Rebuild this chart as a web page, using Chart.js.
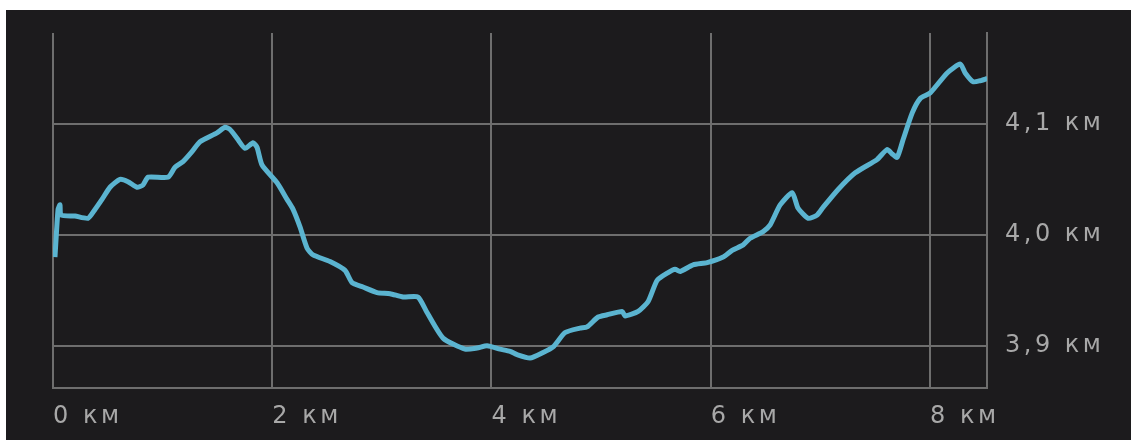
<!DOCTYPE html>
<html>
<head>
<meta charset="utf-8">
<script src="https://cdn.jsdelivr.net/npm/chart.js@4.4.1/dist/chart.umd.min.js"></script>
<style>
  html, body { margin: 0; padding: 0; background: #fff; }
  .panel { position: absolute; left: 6px; top: 10px; width: 1125px; height: 430px; background: #1c1b1d; }
</style>
</head>
<body>
<div class="panel"><canvas id="elevation" width="1125" height="430"></canvas></div>
<script>
// distance along the track, km
const distKm = [
  0.018, 0.046, 0.064, 0.073, 0.201, 0.319, 0.383, 0.447, 0.520, 0.611,
  0.684, 0.766, 0.821, 0.867, 1.049, 1.113, 1.186, 1.268, 1.341, 1.496,
  1.569, 1.615, 1.679, 1.752, 1.825, 1.861, 1.907, 2.044, 2.135, 2.190,
  2.254, 2.318, 2.372, 2.527, 2.664, 2.728, 2.828, 2.956, 3.075, 3.193,
  3.330, 3.412, 3.558, 3.759, 3.869, 3.960, 4.078, 4.170, 4.234, 4.352,
  4.471, 4.562, 4.672, 4.808, 4.872, 4.973, 5.055, 5.192, 5.219, 5.338,
  5.429, 5.511, 5.611, 5.675, 5.721, 5.839, 5.967, 6.113, 6.195, 6.296,
  6.359, 6.478, 6.542, 6.633, 6.743, 6.797, 6.889, 6.971, 7.026, 7.162,
  7.318, 7.518, 7.609, 7.655, 7.701, 7.755, 7.838, 7.911, 8.002, 8.157,
  8.276, 8.321, 8.394, 8.458, 8.522
];
// elevation, km
const elevKm = [
  3.980, 4.023, 4.027, 4.018, 4.017, 4.015, 4.023, 4.032, 4.043, 4.050,
  4.048, 4.043, 4.045, 4.052, 4.052, 4.061, 4.066, 4.075, 4.084, 4.092,
  4.097, 4.095, 4.087, 4.078, 4.083, 4.079, 4.063, 4.047, 4.032, 4.023,
  4.007, 3.988, 3.982, 3.976, 3.968, 3.957, 3.953, 3.948, 3.947, 3.944,
  3.944, 3.930, 3.907, 3.897, 3.898, 3.900, 3.897, 3.895, 3.892, 3.889,
  3.894, 3.899, 3.912, 3.916, 3.917, 3.926, 3.928, 3.931, 3.927, 3.931,
  3.940, 3.959, 3.966, 3.969, 3.967, 3.973, 3.975, 3.980, 3.986, 3.991,
  3.997, 4.003, 4.009, 4.027, 4.038, 4.024, 4.015, 4.018, 4.025, 4.041,
  4.056, 4.068, 4.077, 4.073, 4.070, 4.086, 4.110, 4.123, 4.128, 4.146,
  4.154, 4.146, 4.138, 4.139, 4.141
];
const xTicks = [0, 2, 4, 6, 8];
const yTicks = [3.9, 4.0, 4.1];

const GRID = "#6e6e6e";
const LABEL = "#a8a8a8";
const LINE = "#5bb4d0";

// the labels in the screenshot are set wide
const wideText = {
  id: "wideText",
  beforeDraw(chart) {
    chart.ctx.letterSpacing = "3.5px";
  },
};

const points = distKm.map((d, i) => ({ x: d, y: elevKm[i] }));

new Chart(document.getElementById("elevation").getContext("2d"), {
  type: "line",
  data: {
    datasets: [
      {
        data: points,
        borderColor: LINE,
        borderWidth: 5,
        pointRadius: 0,
        tension: 0.2,
        fill: false,
      },
    ],
  },
  options: {
    responsive: false,
    animation: false,
    layout: { padding: { left: 47, top: 23, right: 0, bottom: 0 } },
    plugins: { legend: { display: false }, tooltip: { enabled: false } },
    scales: {
      x: {
        type: "linear",
        min: 0,
        max: 8.52,
        afterBuildTicks: (scale) => {
          scale.ticks = xTicks.map((v) => ({ value: v }));
        },
        afterFit: (scale) => {
          scale.height = 52;
          scale.paddingLeft = 0;
          scale.paddingRight = 0;
        },
        grid: { color: GRID, lineWidth: 2, drawTicks: false },
        border: { display: true, color: GRID, width: 2 },
        ticks: {
          align: "start",
          padding: 14,
          maxRotation: 0,
          autoSkip: false,
          color: LABEL,
          font: { family: "DejaVu Sans", size: 24 },
          callback: (v) => v + " км",
        },
      },
      y: {
        position: "right",
        min: 3.862,
        max: 4.182,
        afterBuildTicks: (scale) => {
          scale.ticks = yTicks.map((v) => ({ value: v }));
        },
        afterFit: (scale) => {
          scale.width = 144;
          scale.paddingTop = 0;
          scale.paddingBottom = 0;
        },
        grid: { color: GRID, lineWidth: 2, drawTicks: false },
        border: { display: true, color: GRID, width: 2 },
        ticks: {
          padding: 18,
          color: LABEL,
          font: { family: "DejaVu Sans", size: 24 },
          callback: (v) => v.toFixed(1).replace(".", ",") + " км",
        },
      },
    },
  },
  plugins: [wideText],
});
</script>
</body>
</html>
